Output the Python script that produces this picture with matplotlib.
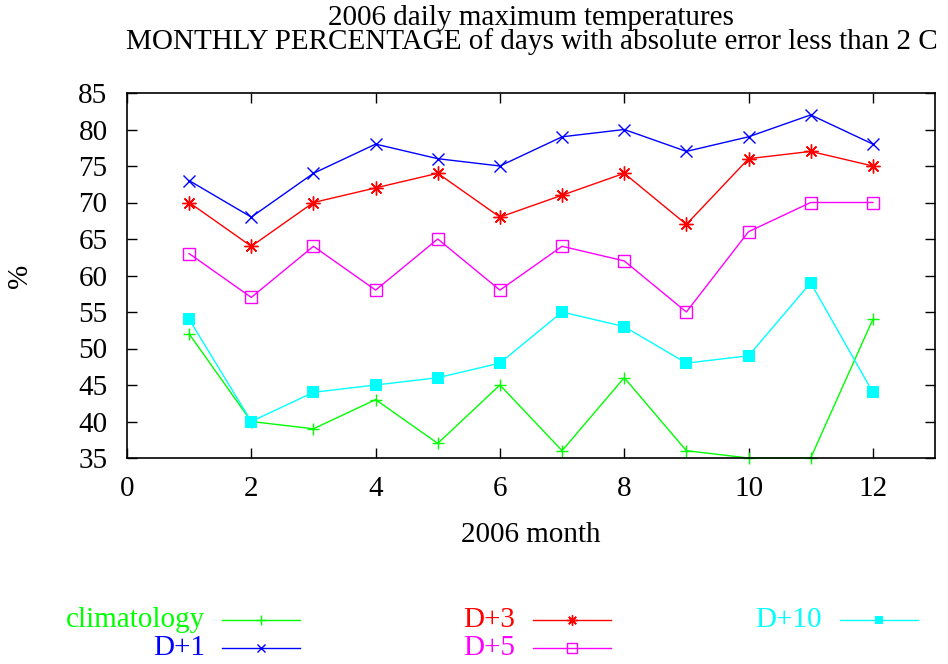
import matplotlib
matplotlib.use("Agg")
import matplotlib.pyplot as plt
from matplotlib.lines import Line2D

plt.rcParams['font.family'] = ['Liberation Serif', 'DejaVu Serif']

months = list(range(1, 13))
climatology = [52, 40, 39, 43, 37, 45, 36, 46, 36, 35, 35, 54]
d1 = [73, 68, 74, 78, 76, 75, 79, 80, 77, 79, 82, 78]
d3 = [70, 64, 70, 72, 74, 68, 71, 74, 67, 76, 77, 75]
d5 = [63, 57, 64, 58, 65, 58, 64, 62, 55, 66, 70, 70]
d10 = [54, 40, 44, 45, 46, 48, 55, 53, 48, 49, 59, 44]

# label, values, colour, marker style
series = [
    ("climatology", climatology, "#00ff00", dict(marker="+", ms=9, mew=1)),
    ("D+1", d1, "#0000ff", dict(marker="x", ms=8, mew=1)),
    ("D+3", d3, "#ff0000", dict(marker=(8, 2, 0), ms=10, mew=1)),
    ("D+5", d5, "#ff00ff", dict(marker="s", ms=9, mew=1, mfc="none")),
    ("D+10", d10, "#00ffff", dict(marker="s", ms=8, mew=0)),
]

FS = 21
W, H = 948, 664

fig = plt.figure(figsize=(W / 100, H / 100), dpi=100)
ax = fig.add_axes([127/W, 206/H, 808/W, 365/H])

for name, vals, col, mk in series:
    ax.plot(months, vals, color=col, lw=1, clip_on=False, **mk)

ax.set_xlim(0, 13)
ax.set_ylim(35, 85)
ax.set_xticks(range(0, 13, 2))
ax.set_yticks(range(35, 86, 5))
ax.tick_params(direction="in", length=7, width=1, top=True, right=True,
               labelsize=FS)
ax.tick_params(axis="y", pad=14)
ax.tick_params(axis="x", pad=13)
for s in ax.spines.values():
    s.set_linewidth(1.2)

ax.set_xlabel("2006 month", fontsize=FS, labelpad=14)
ax.set_ylabel("%", fontsize=FS)
ax.yaxis.set_label_coords((33 - 127) / 808, 0.5)

fig.text(531/W, 1 - 18/H, "2006 daily maximum temperatures",
         fontsize=FS, ha="center", va="center")
fig.text(532/W, 1 - 42/H,
         "MONTHLY PERCENTAGE of days with absolute error less than 2 C",
         fontsize=FS, ha="center", va="center")

# key below the plot: text right-aligned, sample line to its right
key_cols = [(205, 222), (515, 533), (822, 840)]
key_rows = [620, 648]
for i, (name, vals, col, mk) in enumerate(series):
    cx, lx = key_cols[i // 2]
    ry = key_rows[i % 2]
    yf = 1 - ry / H
    fig.text(cx / W, yf, name, color=col, fontsize=FS,
             ha="right", va="center")
    fig.add_artist(Line2D([lx / W, (lx + 78) / W], [yf, yf],
                          transform=fig.transFigure, color=col, lw=1))
    small = dict(mk)
    small["ms"] = mk["ms"] * 0.75
    fig.add_artist(Line2D([(lx + 39) / W], [yf],
                          transform=fig.transFigure, color=col, lw=0, **small))

fig.savefig("out.png", dpi=100)
